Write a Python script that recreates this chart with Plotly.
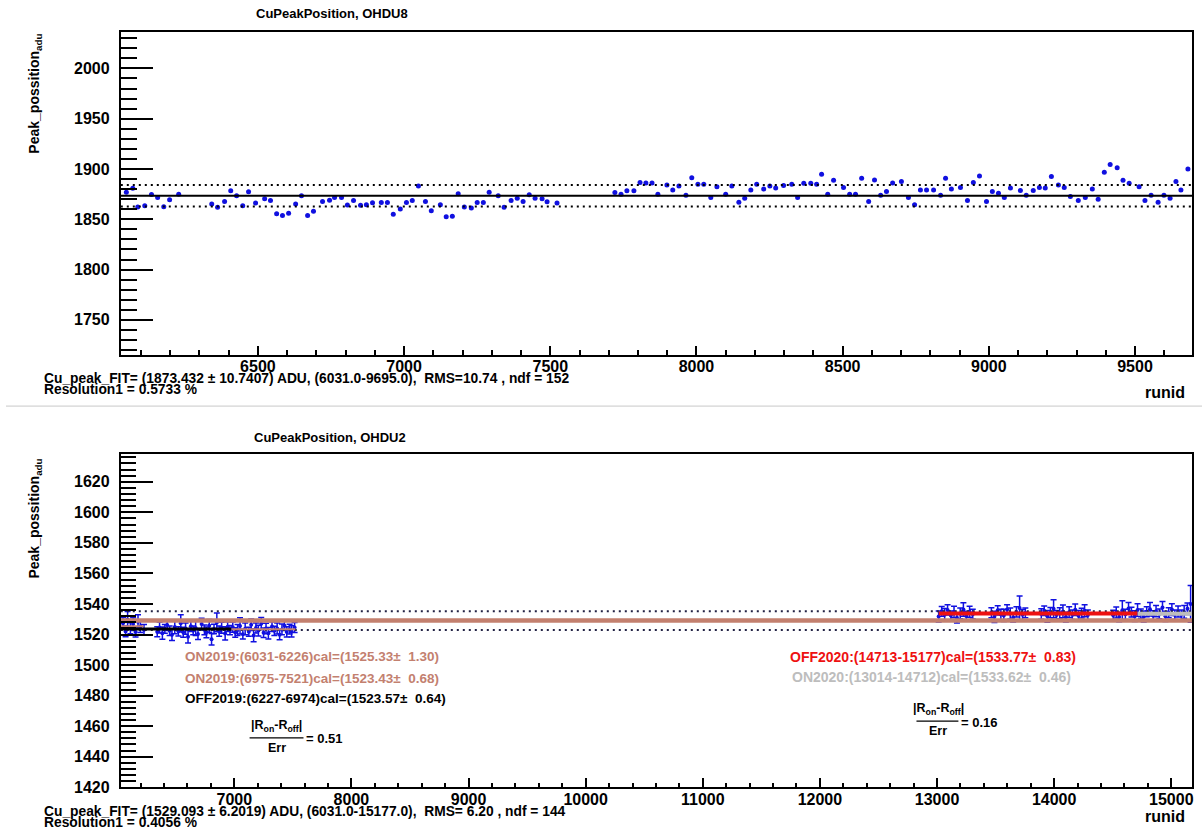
import plotly.graph_objects as go

W, H = 1204, 839


def px(x):
    return x / W


def py(y):
    return 1 - y / H


# ---------------- OHDU8 : Cu peak position per run ----------------
runid_8 = [
    6050, 6072, 6089, 6113, 6136, 6157, 6178, 6198, 6229, 6342, 6362, 6386, 6407, 6427,
    6448, 6468, 6492, 6523, 6543, 6564, 6584, 6605, 6629, 6649, 6670, 6690, 6721, 6745,
    6762, 6786, 6806, 6827, 6851, 6871, 6892, 6922, 6943, 6963, 6987, 7008, 7028, 7049,
    7073, 7093, 7124, 7144, 7165, 7185, 7206, 7230, 7250, 7271, 7291, 7322, 7342, 7366,
    7387, 7407, 7428, 7448, 7472, 7489, 7523,
    7721, 7742, 7762, 7786, 7807, 7827, 7848, 7868, 7899, 7919, 7940, 7964, 7984, 8005,
    8025, 8049, 8070, 8100, 8121, 8145, 8165, 8186, 8206, 8230, 8251, 8271, 8298, 8326,
    8346, 8367, 8391, 8411, 8428, 8449, 8469, 8503, 8524, 8544, 8565, 8589, 8609, 8630,
    8650, 8671, 8701, 8725, 8746, 8766, 8787, 8811, 8835, 8852, 8872, 8903, 8927, 8947,
    8968, 8992, 9012, 9033, 9053, 9074, 9108, 9128, 9152, 9173, 9193, 9214, 9238, 9258,
    9279, 9306, 9330, 9354, 9374, 9395, 9415, 9439, 9459, 9480, 9514, 9534, 9555, 9579,
    9599, 9620, 9640, 9657, 9681,
]
peak_8 = [
    1877.0, 1880.9, 1862.2, 1863.5, 1874.7, 1871.7, 1862.5, 1869.4, 1875.0, 1865.2, 1861.9,
    1867.8, 1878.3, 1873.4, 1863.5, 1877.4, 1866.1, 1870.4, 1868.8, 1855.6, 1853.7, 1856.0,
    1865.2, 1873.4, 1853.7, 1857.9, 1867.8, 1869.0, 1871.7, 1871.7, 1864.2, 1868.7, 1863.9,
    1864.5, 1866.4, 1866.8, 1866.8, 1855.0, 1860.2, 1866.8, 1868.7, 1883.2, 1867.8, 1858.5,
    1864.5, 1852.4, 1853.0, 1875.3, 1862.2, 1861.2, 1866.8, 1866.8, 1877.0, 1873.4, 1861.9,
    1868.8, 1871.0, 1867.8, 1874.4, 1871.0, 1870.4, 1867.5, 1866.1,
    1876.6, 1875.0, 1878.3, 1878.3, 1886.5, 1886.0, 1886.0, 1875.0, 1884.0, 1879.0, 1883.0,
    1874.0, 1891.4, 1884.8, 1884.8, 1871.7, 1882.3, 1875.0, 1883.0, 1867.0, 1871.0, 1879.0,
    1884.8, 1880.0, 1883.0, 1881.0, 1883.5, 1884.8, 1871.7, 1885.8, 1885.8, 1884.8, 1894.7,
    1875.0, 1888.8, 1881.6, 1875.0, 1875.0, 1890.7, 1867.8, 1889.0, 1874.0, 1877.7, 1886.0,
    1887.5, 1871.7, 1864.5, 1879.0, 1879.0, 1879.0, 1874.0, 1890.7, 1880.0, 1881.6, 1868.7,
    1886.5, 1893.0, 1867.8, 1877.7, 1876.0, 1871.7, 1881.0, 1878.7, 1874.0, 1878.7, 1881.6,
    1881.0, 1892.5, 1884.0, 1881.6, 1872.7, 1868.7, 1871.7, 1880.0, 1870.0, 1896.7, 1904.5,
    1901.3, 1888.8, 1885.8, 1882.3, 1868.7, 1874.0, 1867.0, 1874.0, 1871.0, 1887.5, 1879.0,
    1900.0,
]
fit8_mean, fit8_rms = 1873.432, 10.7407
range8 = (6031, 9695)

# ---------------- OHDU2 : Cu peak position per run ----------------
runid_2 = [
    6050, 6072, 6089, 6113, 6136, 6157, 6178, 6198, 6229,
    6342, 6362, 6386, 6407, 6427, 6448, 6468, 6492, 6523, 6543, 6564, 6584, 6605, 6629,
    6649, 6670, 6690, 6721, 6745, 6762, 6786, 6806, 6827, 6851, 6871, 6892, 6922, 6943, 6963,
    6987, 7008, 7028, 7049, 7073, 7093, 7124, 7144, 7165, 7185, 7206, 7230, 7250, 7271,
    7291, 7322, 7342, 7366, 7387, 7407, 7428, 7448, 7472, 7489, 7515,
    13014, 13040, 13065, 13090, 13118, 13145, 13170, 13198, 13225, 13250, 13278, 13305,
    13464, 13490, 13518, 13545, 13570, 13598, 13625, 13650, 13678, 13705, 13730, 13754,
    13890, 13915, 13942, 13968, 13995, 14020, 14048, 14075, 14100, 14128, 14155, 14180,
    14208, 14235, 14260, 14288,
    14504, 14530, 14555, 14582, 14608, 14635, 14660, 14688, 14712, 14740, 14765, 14790,
    14818, 14845, 14870, 14898, 14925, 14950, 14978, 15005, 15030, 15058, 15085, 15110,
    15138, 15165,
]
peak_2 = [
    1527.4, 1522.0, 1529.8, 1524.1, 1526.8, 1521.6, 1528.3, 1525.2, 1523.1,
    1521.8, 1524.6, 1520.9, 1523.7, 1526.2, 1522.4, 1519.8, 1524.9, 1522.1, 1527.3, 1521.5,
    1523.9, 1518.6, 1525.4, 1522.7, 1524.2, 1520.3, 1526.8, 1523.1, 1521.4, 1525.7, 1516.9,
    1523.6, 1527.9, 1522.2, 1524.5, 1520.7, 1525.1, 1522.9,
    1524.8, 1521.3, 1522.9, 1525.6, 1520.2, 1523.7, 1521.8, 1526.4, 1519.4, 1524.3, 1522.6,
    1527.1, 1521.1, 1523.9, 1520.8, 1525.2, 1522.4, 1524.0, 1519.9, 1523.3, 1525.8, 1521.7,
    1523.5, 1522.0, 1524.6,
    1531.8, 1535.2, 1533.0, 1536.1, 1532.4, 1534.7, 1530.9, 1533.8, 1536.4, 1532.1, 1534.9,
    1533.3,
    1534.2, 1531.6, 1535.8, 1533.1, 1532.5, 1536.3, 1533.7, 1531.2, 1534.8, 1537.4, 1532.9,
    1534.1,
    1533.4, 1535.6, 1531.9, 1534.3, 1536.8, 1532.7, 1533.9, 1535.1, 1531.4, 1534.6, 1533.0,
    1536.2, 1532.3, 1534.0, 1535.5, 1532.8,
    1532.6, 1534.4, 1531.5, 1535.9, 1533.2, 1537.1, 1534.6, 1532.0, 1536.0, 1533.7, 1531.8,
    1534.9, 1536.5, 1532.4, 1535.3, 1533.5, 1537.6, 1531.9, 1534.2, 1536.3, 1533.0, 1535.1,
    1532.7, 1534.8, 1536.9, 1540.0,
]
err_2 = [
    3.8, 3.5, 5.2, 3.6, 4.1, 3.3, 4.6, 3.9, 3.4,
    3.2, 3.6, 4.0, 2.9, 3.5, 3.1, 3.8, 4.4, 3.0, 5.6, 3.3, 3.7, 4.1, 3.4, 2.8, 4.9, 3.6,
    3.9, 3.2, 3.5, 4.2, 3.8, 3.1, 6.1, 3.3, 3.6, 4.3, 3.2, 3.0,
    3.4, 3.1, 3.6, 5.3, 3.2, 3.9, 3.0, 3.7, 4.2, 3.3, 3.5, 4.0, 3.1, 3.4, 3.8, 3.2, 3.0,
    3.6, 3.3, 3.5, 3.1, 3.4, 3.2, 3.7, 3.3,
    3.6, 3.2, 4.1, 3.4, 3.0, 3.8, 3.3, 3.5, 4.4, 3.1, 3.6, 3.2,
    3.3, 3.7, 3.1, 3.5, 4.0, 3.2, 3.6, 3.0, 3.4, 7.8, 3.5, 3.2,
    3.4, 3.1, 3.8, 3.3, 5.9, 3.0, 3.6, 4.2, 3.2, 3.5, 3.1, 3.7, 3.4, 3.2, 3.9, 3.3,
    3.3, 3.6, 3.1, 6.2, 3.4, 3.8, 3.2, 3.5, 4.1, 3.0, 3.6, 3.3, 4.4, 3.1, 3.7, 3.2, 4.0,
    3.4, 3.3, 3.9, 3.1, 3.6, 3.3, 4.2, 3.8, 12.0,
]
fit2_mean, fit2_rms = 1529.093, 6.2019
range2 = (6031, 15177)

# period calibrations: label, first run, last run, value, error
on2019_a = ("ON2019", 6031, 6226, 1525.33, 1.30)
on2019_b = ("ON2019", 6975, 7521, 1523.43, 0.68)
off2019 = ("OFF2019", 6227, 6974, 1523.57, 0.64)
off2020 = ("OFF2020", 14713, 15177, 1533.77, 0.83)
on2020 = ("ON2020", 13014, 14712, 1533.62, 0.46)
ratio_2019 = 0.51
ratio_2020 = 0.16

BLUE = "#1010e0"
ROSY = "#c3806f"
RED = "#ee1111"
GRAY = "#bdbdbd"
FONT = "Liberation Sans"
NB = "\u00a0"

fig = go.Figure()

# ---- top panel ----
fig.add_trace(go.Scatter(
    x=runid_8, y=peak_8, mode="markers", xaxis="x", yaxis="y",
    marker=dict(color=BLUE, size=5, symbol="circle"), showlegend=False,
))
for val, dash in [(fit8_mean, "solid"), (fit8_mean + fit8_rms, "2px,4px"),
                  (fit8_mean - fit8_rms, "2px,4px")]:
    fig.add_trace(go.Scatter(
        x=list(range8), y=[val, val], mode="lines", xaxis="x", yaxis="y",
        line=dict(color="black", width=2, dash=dash), showlegend=False, hoverinfo="skip",
    ))

# ---- bottom panel ----
fig.add_trace(go.Scatter(
    x=runid_2, y=peak_2, mode="markers", xaxis="x2", yaxis="y2",
    marker=dict(color=BLUE, size=4),
    error_y=dict(type="data", array=err_2, color=BLUE, thickness=1.5, width=3),
    showlegend=False,
))
for val in (fit2_mean + fit2_rms, fit2_mean - fit2_rms):
    fig.add_trace(go.Scatter(
        x=list(range2), y=[val, val], mode="lines", xaxis="x2", yaxis="y2",
        line=dict(color="#222244", width=2, dash="2px,4px"), showlegend=False, hoverinfo="skip",
    ))
fig.add_trace(go.Scatter(
    x=list(range2), y=[fit2_mean, fit2_mean], mode="lines", xaxis="x2", yaxis="y2",
    line=dict(color=ROSY, width=4.5), showlegend=False, hoverinfo="skip",
))

period_lines = [
    (on2019_a[1], on2019_a[2], on2019_a[3], ROSY, 2),
    (on2019_b[1], on2019_b[2], on2019_b[3], ROSY, 2),
    (range2[0], off2019[2], off2019[3], "black", 3),
    (on2020[1], on2020[2], off2020[3], RED, 4),
    (off2020[1], off2020[2], on2020[3], GRAY, 4),
]
for x0, x1, val, col, w in period_lines:
    fig.add_trace(go.Scatter(
        x=[x0, x1], y=[val, val], mode="lines", xaxis="x2", yaxis="y2",
        line=dict(color=col, width=w), showlegend=False, hoverinfo="skip",
    ))

tickfont = dict(family=FONT, size=16, color="black", weight="bold")
common = dict(showline=True, linecolor="black", linewidth=2, mirror=True, showgrid=False,
              zeroline=False, ticks="inside", tickcolor="black", tickwidth=1.5,
              tickfont=tickfont, tickformat="d")

fig.update_layout(
    width=W, height=H, margin=dict(l=0, r=0, t=0, b=0),
    paper_bgcolor="white", plot_bgcolor="white", showlegend=False,
    xaxis=dict(domain=[px(121), px(1194)], anchor="y", range=list(range8), dtick=500, tick0=0,
               ticklen=9, minor=dict(dtick=100, ticks="inside", ticklen=4.5, tickwidth=1.5,
                                      tickcolor="black"),
               ticklabelstandoff=-4, **common),
    yaxis=dict(domain=[py(358), py(32)], anchor="x", range=[1715.5, 2036.5], dtick=50, tick0=0,
               ticklen=32, minor=dict(dtick=10, ticks="inside", ticklen=16, tickwidth=1.5,
                                      tickcolor="black"),
               ticklabelstandoff=6, **common),
    xaxis2=dict(domain=[px(121), px(1194)], anchor="y2", range=list(range2), dtick=1000, tick0=0,
                ticklen=9, minor=dict(dtick=200, ticks="inside", ticklen=4.5, tickwidth=1.5,
                                       tickcolor="black"),
                ticklabelstandoff=-4, **common),
    yaxis2=dict(domain=[py(795), py(458)], anchor="x2", range=[1419.9, 1638.4], dtick=20, tick0=0,
                ticklen=32, minor=dict(dtick=4, ticks="inside", ticklen=15, tickwidth=1.5,
                                       tickcolor="black"),
                ticklabelstandoff=6, **common),
)

ann = []


def text(x, y, s, size=13.5, color="black", xanchor="left", yanchor="middle", angle=0):
    ann.append(dict(x=px(x), y=py(y), xref="paper", yref="paper", text=s, showarrow=False,
                    xanchor=xanchor, yanchor=yanchor, textangle=angle,
                    font=dict(family=FONT, size=size, color=color, weight="bold")))


# titles
text(254, 14, "CuPeakPosition, OHDU8", size=13)
text(252, 442, "CuPeakPosition, OHDU2", size=13)

# y titles
text(35, 32, "Peak_possition<sub>adu</sub>", size=14, xanchor="center", yanchor="top", angle=-90)
text(35, 461, "Peak_possition<sub>adu</sub>", size=14, xanchor="center", yanchor="top", angle=-90)

# x titles
text(1189, 396, "runid", size=16, xanchor="right")
text(1189, 824, "runid", size=16, xanchor="right")

# fit summaries
text(42, 382, f"Cu_peak_FIT= ({fit8_mean:.3f} ± {fit8_rms:.4f}) ADU, "
              f"({range8[0]:.1f}-{range8[1]:.1f}),{NB} RMS={fit8_rms:.2f} , ndf = 152", size=13.8)
text(42, 393, "Resolution1 = 0.5733 %", size=13.8)
text(42, 819, f"Cu_peak_FIT= ({fit2_mean:.3f} ± {fit2_rms:.4f}) ADU, "
              f"({range2[0]:.1f}-{range2[1]:.1f}),{NB} RMS= {fit2_rms:.2f} , ndf = 144", size=13.8)
text(42, 830, "Resolution1 = 0.4056 %", size=13.8)


def cal_label(p):
    return f"{p[0]}:({p[1]}-{p[2]})cal=({p[3]:.2f}±{NB}{NB}{p[4]:.2f})"


text(183, 663, cal_label(on2019_a), color=ROSY)
text(183, 685, cal_label(on2019_b), color=ROSY)
text(183, 705, cal_label(off2019), color="black")
text(789, 663, cal_label(off2020), color=RED, size=14)
text(791, 684, cal_label(on2020), color=GRAY, size=14)

# |R_on - R_off| / Err ratios
frac = "|R<sub>on</sub>-R<sub>off</sub>|"
shapes = []
for cx, ytop, x0, x1, r in [(277, 733, 250, 304, ratio_2019), (940, 716, 918, 960, ratio_2020)]:
    text(cx, ytop, frac, size=12.5, xanchor="center")
    text(cx, ytop + 22, "Err", size=12.5, xanchor="center")
    text(x1 + 1, ytop + 13, f"= {r:.2f}", size=13, xanchor="left")
    shapes.append(dict(type="line", xref="paper", yref="paper", x0=px(x0), x1=px(x1),
                       y0=py(ytop + 12), y1=py(ytop + 12), line=dict(color="black", width=1.2)))

# pad separator
shapes.append(dict(type="line", xref="paper", yref="paper", x0=px(6), x1=1, y0=py(410), y1=py(410),
                   line=dict(color="#c8c8c8", width=1)))

fig.update_layout(annotations=ann, shapes=shapes)
fig.write_html("out.html")
